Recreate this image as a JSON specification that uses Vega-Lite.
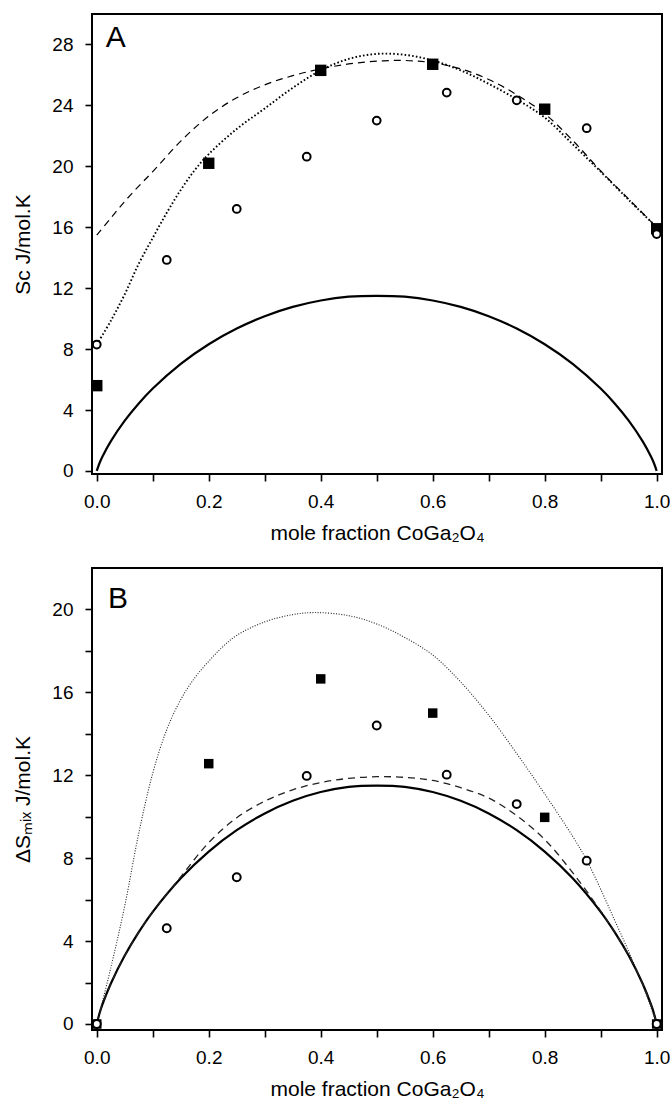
{
  "$schema": "https://vega.github.io/schema/vega-lite/v6.json",
  "padding": {"left": 11, "top": 13, "right": 8, "bottom": 5},
  "bounds": "flush",
  "spacing": 94,
  "config": {
    "view": {"stroke": "black", "strokeWidth": 2},
    "font": "Liberation Sans",
    "axis": {
      "domain": false, "grid": false, "ticks": true,
      "tickColor": "black", "tickWidth": 1.6, "tickSize": 7,
      "labelColor": "black", "labelFontSize": 19, "labelFont": "Liberation Sans",
      "titleFont": "Liberation Sans", "titleFontSize": 21, "titleFontWeight": "normal", "titleColor": "black"
    }
  },
  "datasets": {
    "ideal": [
      {"x": 0, "y": 0}, {"x": 0.005, "y": 0.52}, {"x": 0.01, "y": 0.93}, {"x": 0.025, "y": 1.94},
      {"x": 0.05, "y": 3.30}, {"x": 0.075, "y": 4.43}, {"x": 0.1, "y": 5.41}, {"x": 0.15, "y": 7.03},
      {"x": 0.2, "y": 8.32}, {"x": 0.25, "y": 9.35}, {"x": 0.3, "y": 10.16}, {"x": 0.35, "y": 10.77},
      {"x": 0.4, "y": 11.19}, {"x": 0.45, "y": 11.44}, {"x": 0.5, "y": 11.5}, {"x": 0.55, "y": 11.44},
      {"x": 0.6, "y": 11.19}, {"x": 0.65, "y": 10.77}, {"x": 0.7, "y": 10.16}, {"x": 0.75, "y": 9.35},
      {"x": 0.8, "y": 8.32}, {"x": 0.85, "y": 7.03}, {"x": 0.9, "y": 5.41}, {"x": 0.925, "y": 4.43},
      {"x": 0.95, "y": 3.30}, {"x": 0.975, "y": 1.94}, {"x": 0.99, "y": 0.93}, {"x": 0.995, "y": 0.52},
      {"x": 1.0, "y": 0}
    ],
    "A_dot": [
      {"x": 0, "y": 8.3}, {"x": 0.025, "y": 9.85}, {"x": 0.05, "y": 11.6}, {"x": 0.075, "y": 13.6},
      {"x": 0.1, "y": 15.3}, {"x": 0.125, "y": 16.95}, {"x": 0.15, "y": 18.45}, {"x": 0.175, "y": 19.75},
      {"x": 0.2, "y": 20.8}, {"x": 0.25, "y": 22.45}, {"x": 0.3, "y": 23.8}, {"x": 0.35, "y": 25.15},
      {"x": 0.4, "y": 26.3}, {"x": 0.45, "y": 27.05}, {"x": 0.5, "y": 27.38}, {"x": 0.55, "y": 27.32},
      {"x": 0.6, "y": 26.95}, {"x": 0.65, "y": 26.3}, {"x": 0.7, "y": 25.42}, {"x": 0.75, "y": 24.4},
      {"x": 0.8, "y": 23.2}, {"x": 0.85, "y": 21.45}, {"x": 0.9, "y": 19.65}, {"x": 0.95, "y": 17.8},
      {"x": 1.0, "y": 16.0}
    ],
    "A_dash": [
      {"x": 0, "y": 15.48}, {"x": 0.025, "y": 16.6}, {"x": 0.05, "y": 17.7}, {"x": 0.075, "y": 18.7},
      {"x": 0.1, "y": 19.65}, {"x": 0.15, "y": 21.65}, {"x": 0.2, "y": 23.3}, {"x": 0.25, "y": 24.5},
      {"x": 0.3, "y": 25.35}, {"x": 0.35, "y": 25.95}, {"x": 0.4, "y": 26.4}, {"x": 0.45, "y": 26.72},
      {"x": 0.5, "y": 26.9}, {"x": 0.55, "y": 26.95}, {"x": 0.6, "y": 26.8}, {"x": 0.65, "y": 26.4},
      {"x": 0.7, "y": 25.7}, {"x": 0.75, "y": 24.7}, {"x": 0.8, "y": 23.45}, {"x": 0.85, "y": 21.7},
      {"x": 0.9, "y": 19.7}, {"x": 0.95, "y": 17.85}, {"x": 1.0, "y": 16.0}
    ],
    "A_pts": [
      {"x": 0, "y": 5.6, "s": "sq"}, {"x": 0.2, "y": 20.2, "s": "sq"}, {"x": 0.4, "y": 26.3, "s": "sq"},
      {"x": 0.6, "y": 26.7, "s": "sq"}, {"x": 0.8, "y": 23.75, "s": "sq"}, {"x": 1.0, "y": 15.9, "s": "sq"},
      {"x": 0, "y": 8.3, "s": "ci"}, {"x": 0.125, "y": 13.85, "s": "ci"}, {"x": 0.25, "y": 17.2, "s": "ci"},
      {"x": 0.375, "y": 20.63, "s": "ci"}, {"x": 0.5, "y": 23.0, "s": "ci"}, {"x": 0.625, "y": 24.84, "s": "ci"},
      {"x": 0.75, "y": 24.33, "s": "ci"}, {"x": 0.875, "y": 22.5, "s": "ci"}, {"x": 1.0, "y": 15.55, "s": "ci"}
    ],
    "B_dash": [
      {"x": 0, "y": 0}, {"x": 0.005, "y": 0.52}, {"x": 0.01, "y": 0.93}, {"x": 0.025, "y": 1.94},
      {"x": 0.05, "y": 3.3}, {"x": 0.075, "y": 4.43}, {"x": 0.1, "y": 5.42}, {"x": 0.15, "y": 7.1},
      {"x": 0.2, "y": 8.75}, {"x": 0.25, "y": 9.95}, {"x": 0.3, "y": 10.75}, {"x": 0.35, "y": 11.3},
      {"x": 0.4, "y": 11.65}, {"x": 0.45, "y": 11.85}, {"x": 0.5, "y": 11.93}, {"x": 0.55, "y": 11.9},
      {"x": 0.6, "y": 11.75}, {"x": 0.65, "y": 11.4}, {"x": 0.7, "y": 10.9}, {"x": 0.75, "y": 10.05},
      {"x": 0.8, "y": 8.9}, {"x": 0.85, "y": 7.3}, {"x": 0.9, "y": 5.45}, {"x": 0.925, "y": 4.43},
      {"x": 0.95, "y": 3.3}, {"x": 0.975, "y": 1.94}, {"x": 0.99, "y": 0.93}, {"x": 0.995, "y": 0.52},
      {"x": 1.0, "y": 0}
    ],
    "B_dot": [
      {"x": 0, "y": 0}, {"x": 0.025, "y": 2.7}, {"x": 0.05, "y": 5.7}, {"x": 0.075, "y": 9.2},
      {"x": 0.1, "y": 12.1}, {"x": 0.125, "y": 14.2}, {"x": 0.15, "y": 15.65}, {"x": 0.175, "y": 16.7},
      {"x": 0.2, "y": 17.5}, {"x": 0.225, "y": 18.2}, {"x": 0.25, "y": 18.75}, {"x": 0.3, "y": 19.4},
      {"x": 0.35, "y": 19.75}, {"x": 0.39, "y": 19.85}, {"x": 0.45, "y": 19.7}, {"x": 0.5, "y": 19.3},
      {"x": 0.55, "y": 18.65}, {"x": 0.6, "y": 17.8}, {"x": 0.65, "y": 16.5}, {"x": 0.7, "y": 14.9},
      {"x": 0.75, "y": 13.05}, {"x": 0.8, "y": 11.1}, {"x": 0.85, "y": 9.05}, {"x": 0.875, "y": 7.9},
      {"x": 0.9, "y": 6.5}, {"x": 0.925, "y": 5.0}, {"x": 0.95, "y": 3.5}, {"x": 0.975, "y": 1.9},
      {"x": 1.0, "y": 0}
    ],
    "B_pts": [
      {"x": 0, "y": 0, "s": "sq"}, {"x": 0.2, "y": 12.56, "s": "sq"}, {"x": 0.4, "y": 16.65, "s": "sq"},
      {"x": 0.6, "y": 15.0, "s": "sq"}, {"x": 0.8, "y": 9.97, "s": "sq"}, {"x": 1.0, "y": 0, "s": "sq"},
      {"x": 0, "y": 0, "s": "ci"}, {"x": 0.125, "y": 4.62, "s": "ci"}, {"x": 0.25, "y": 7.08, "s": "ci"},
      {"x": 0.375, "y": 11.97, "s": "ci"}, {"x": 0.5, "y": 14.4, "s": "ci"}, {"x": 0.625, "y": 12.03, "s": "ci"},
      {"x": 0.75, "y": 10.61, "s": "ci"}, {"x": 0.875, "y": 7.88, "s": "ci"}, {"x": 1.0, "y": 0, "s": "ci"}
    ]
  },
  "vconcat": [
    {
      "width": 570,
      "height": 460,
      "layer": [
        {"data": {"name": "ideal"}, "mark": {"type": "line", "color": "black", "strokeWidth": 2.2, "interpolate": "catmull-rom"},
         "encoding": {
          "x": {
            "field": "x", "type": "quantitative",
            "scale": {"domain": [-0.0085, 1.0095], "nice": false, "zero": false},
            "title": "mole fraction CoGa₂O₄",
            "axis": {
              "values": [0, 0.1, 0.2, 0.3, 0.4, 0.5, 0.6, 0.7, 0.8, 0.9, 1.0],
              "format": ".1f",
              "labelExpr": "round(datum.value*10) % 2 === 0 ? datum.label : ''",
              "labelPadding": 11.5, "titlePadding": 11
            }
          },
          "y": {
            "field": "y", "type": "quantitative",
            "scale": {"domain": [-0.2, 30], "nice": false, "zero": false},
            "title": "Sc J/mol.K",
            "axis": {
              "values": [0, 2, 4, 6, 8, 10, 12, 14, 16, 18, 20, 22, 24, 26, 28],
              "labelExpr": "datum.value % 4 === 0 ? datum.label : ''",
              "labelPadding": 12, "titlePadding": 18.5
            }
          }
        }},
        {"data": {"name": "A_dash"}, "mark": {"type": "line", "color": "black", "strokeWidth": 1.2, "strokeDash": [7, 5], "interpolate": "catmull-rom"},
         "encoding": {"x": {"field": "x", "type": "quantitative"}, "y": {"field": "y", "type": "quantitative"}}},
        {"data": {"name": "A_dot"}, "mark": {"type": "line", "color": "black", "strokeWidth": 1.9, "strokeDash": [1.6, 2.2], "interpolate": "catmull-rom"},
         "encoding": {"x": {"field": "x", "type": "quantitative"}, "y": {"field": "y", "type": "quantitative"}}},
        {"data": {"name": "A_pts"}, "transform": [{"filter": "datum.s === 'sq'"}], "mark": {"type": "point", "shape": "square", "filled": true, "color": "black", "size": 130, "opacity": 1},
         "encoding": {"x": {"field": "x", "type": "quantitative"}, "y": {"field": "y", "type": "quantitative"}}},
        {"data": {"name": "A_pts"}, "transform": [{"filter": "datum.s === 'ci'"}], "mark": {"type": "point", "shape": "circle", "filled": false, "stroke": "black", "fill": "white", "fillOpacity": 1, "strokeWidth": 2, "size": 60, "opacity": 1},
         "encoding": {"x": {"field": "x", "type": "quantitative"}, "y": {"field": "y", "type": "quantitative"}}},
        {"data": {"values": [{"p": "A"}]},
         "mark": {"type": "text", "align": "left", "baseline": "alphabetic", "fontSize": 30, "font": "Liberation Sans", "fill": "black", "opacity": 1},
         "encoding": {"x": {"datum": 0.016, "type": "quantitative"}, "y": {"datum": 27.82, "type": "quantitative"}, "text": {"field": "p", "type": "nominal"}}}
      ]
    },
    {
      "width": 570,
      "height": 462,
      "layer": [
        {"data": {"name": "ideal"}, "mark": {"type": "line", "color": "black", "strokeWidth": 2.2, "interpolate": "catmull-rom"},
         "encoding": {
          "x": {
            "field": "x", "type": "quantitative",
            "scale": {"domain": [-0.0085, 1.0095], "nice": false, "zero": false},
            "title": "mole fraction CoGa₂O₄",
            "axis": {
              "values": [0, 0.1, 0.2, 0.3, 0.4, 0.5, 0.6, 0.7, 0.8, 0.9, 1.0],
              "format": ".1f",
              "labelExpr": "round(datum.value*10) % 2 === 0 ? datum.label : ''",
              "labelPadding": 11.5, "titlePadding": 11
            }
          },
          "y": {
            "field": "y", "type": "quantitative",
            "scale": {"domain": [-0.29, 22], "nice": false, "zero": false},
            "title": "ΔSₘᵢₓ J/mol.K",
            "axis": {
              "values": [0, 2, 4, 6, 8, 10, 12, 14, 16, 18, 20],
              "labelExpr": "datum.value % 4 === 0 ? datum.label : ''",
              "labelPadding": 12, "titlePadding": 18.5
            }
          }
        }},
        {"data": {"name": "B_dash"}, "mark": {"type": "line", "color": "#222", "strokeWidth": 1.3, "strokeDash": [7, 5], "interpolate": "catmull-rom"},
         "encoding": {"x": {"field": "x", "type": "quantitative"}, "y": {"field": "y", "type": "quantitative"}}},
        {"data": {"name": "B_dot"}, "mark": {"type": "line", "color": "#222", "strokeWidth": 1.1, "strokeDash": [1, 1.6], "interpolate": "catmull-rom"},
         "encoding": {"x": {"field": "x", "type": "quantitative"}, "y": {"field": "y", "type": "quantitative"}}},
        {"data": {"name": "B_pts"}, "transform": [{"filter": "datum.s === 'sq'"}], "mark": {"type": "point", "shape": "square", "filled": true, "color": "black", "size": 90, "opacity": 1},
         "encoding": {"x": {"field": "x", "type": "quantitative"}, "y": {"field": "y", "type": "quantitative"}}},
        {"data": {"name": "B_pts"}, "transform": [{"filter": "datum.s === 'ci'"}], "mark": {"type": "point", "shape": "circle", "filled": false, "stroke": "black", "fill": "white", "fillOpacity": 1, "strokeWidth": 2, "size": 62, "opacity": 1},
         "encoding": {"x": {"field": "x", "type": "quantitative"}, "y": {"field": "y", "type": "quantitative"}}},
        {"data": {"values": [{"p": "B"}]},
         "mark": {"type": "text", "align": "left", "baseline": "alphabetic", "fontSize": 30, "font": "Liberation Sans", "fill": "black", "opacity": 1},
         "encoding": {"x": {"datum": 0.02, "type": "quantitative"}, "y": {"datum": 20.05, "type": "quantitative"}, "text": {"field": "p", "type": "nominal"}}}
      ]
    }
  ]
}
